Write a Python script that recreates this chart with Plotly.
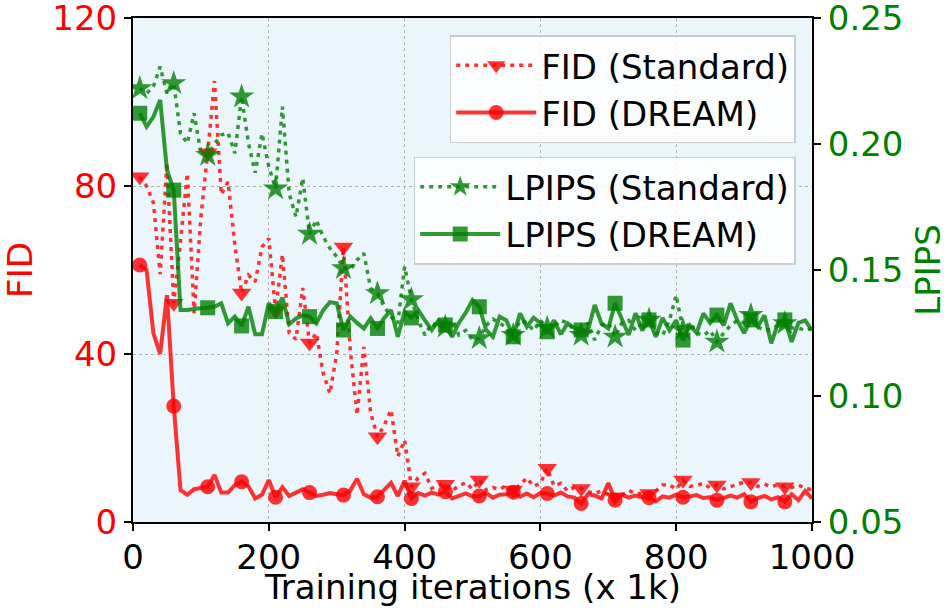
import plotly.graph_objects as go

iters = list(range(10, 1001, 10))

fid_standard = [82.2, 80, 76, 59, 85.5, 52.1, 67, 83, 49.7, 72.7,
                87.9, 105, 78, 81, 66, 54.5, 58.8, 57.2, 65.5, 67.5,
                50.3, 63.7, 45, 43.5, 55.7, 42.6, 45, 35.5, 30.6, 40,
                65.5, 41, 25.5, 41.7, 26, 20.3, 23, 26.7, 15.6, 19.5,
                8.4, 10.5, 11.6, 8.0, 8.8, 9.0, 7.5, 8.6, 9.4, 7.8,
                10.0, 7.6, 8.2, 7.8, 8.7, 7.6, 8.8, 10.5, 8.5, 9.2,
                12.8, 8.6, 9.2, 7.4, 8.3, 8.0, 7.2, 6.8, 7.4, 6.5,
                6.0, 6.3, 7.5, 6.8, 6.7, 6.8, 7.4, 8.8, 8.9, 7.8,
                10.0, 8.5, 8.7, 9.2, 8.1, 8.8, 7.9, 8.4, 8.8, 9.5,
                9.4, 8.5, 9.0, 8.4, 8.9, 8.4, 8.2, 8.8, 8.0, 7.7]

fid_dream = [61.2, 60, 45, 40, 54, 27.6, 7.6, 6.5, 7.8, 8.0,
             8.4, 11.2, 7.0, 7.0, 8.8, 9.6, 8.5, 5.6, 6.5, 10.0,
             5.9, 8.3, 6.2, 7.0, 7.8, 7.0, 6.2, 6.5, 6.9, 6.6,
             6.4, 7.5, 10.3, 6.6, 5.8, 6.0, 7.6, 9.3, 6.2, 9.8,
             5.6, 6.9, 6.3, 7.0, 6.5, 7.2, 5.6, 6.3, 6.8, 6.1,
             6.2, 6.9, 5.8, 6.5, 6.6, 7.1, 6.0, 6.8, 5.9, 6.9,
             6.8, 6.3, 7.0, 6.1, 5.8, 4.4, 6.6, 6.3, 5.6, 9.3,
             5.2, 6.5, 5.8, 6.3, 5.9, 5.8, 4.9, 6.1, 5.8, 6.5,
             5.9, 6.1, 6.4, 5.7, 5.9, 5.2, 5.7, 6.3, 5.8, 6.6,
             4.8, 5.7, 6.2, 5.4, 5.9, 4.8, 6.6, 5.2, 7.4, 5.6]

lpips_standard = [0.2221, 0.2201, 0.2228, 0.2307, 0.2201, 0.2241, 0.2042, 0.2003, 0.2122, 0.1964,
                  0.1956, 0.2000, 0.2036, 0.2044, 0.1963, 0.2188, 0.2003, 0.1886, 0.2042, 0.1910,
                  0.1823, 0.2148, 0.1804, 0.1711, 0.1864, 0.1643, 0.1698, 0.1632, 0.1586, 0.1553,
                  0.1507, 0.1500, 0.1540, 0.1566, 0.1427, 0.1407, 0.1354, 0.1315, 0.1288, 0.1513,
                  0.1383, 0.1300, 0.1242, 0.1288, 0.1270, 0.1275, 0.1300, 0.1242, 0.1260, 0.1222,
                  0.1229, 0.1280, 0.1305, 0.1290, 0.1270, 0.1242, 0.1300, 0.1290, 0.1260, 0.1300,
                  0.1270, 0.1280, 0.1300, 0.1290, 0.1260, 0.1242, 0.1290, 0.1222, 0.1280, 0.1290,
                  0.1235, 0.1290, 0.1300, 0.1260, 0.1290, 0.1302, 0.1250, 0.1240, 0.1300, 0.1400,
                  0.1262, 0.1290, 0.1250, 0.1240, 0.1260, 0.1215, 0.1250, 0.1280, 0.1300, 0.1290,
                  0.1321, 0.1275, 0.1260, 0.1265, 0.1280, 0.1288, 0.1270, 0.1270, 0.1260, 0.1270]

lpips_dream = [0.2122, 0.2069, 0.2108, 0.2175, 0.1897, 0.1817, 0.1341, 0.1341, 0.1345, 0.1348,
               0.1350, 0.1354, 0.1368, 0.1288, 0.1315, 0.1278, 0.1354, 0.1245, 0.1245, 0.1368,
               0.1335, 0.1390, 0.1285, 0.1308, 0.1320, 0.1315, 0.1288, 0.1340, 0.1372, 0.1368,
               0.1262, 0.1315, 0.1290, 0.1268, 0.1308, 0.1268, 0.1310, 0.1341, 0.1235, 0.1335,
               0.1310, 0.1341, 0.1300, 0.1262, 0.1300, 0.1282, 0.1235, 0.1290, 0.1330, 0.1381,
               0.1354, 0.1262, 0.1235, 0.1315, 0.1300, 0.1235, 0.1328, 0.1275, 0.1310, 0.1290,
               0.1255, 0.1300, 0.1245, 0.1288, 0.1270, 0.1262, 0.1260, 0.1361, 0.1288, 0.1268,
               0.1368, 0.1300, 0.1242, 0.1328, 0.1260, 0.1302, 0.1235, 0.1310, 0.1260, 0.1300,
               0.1222, 0.1280, 0.1250, 0.1328, 0.1290, 0.1321, 0.1280, 0.1368, 0.1300, 0.1250,
               0.1302, 0.1275, 0.1320, 0.1209, 0.1290, 0.1302, 0.1215, 0.1290, 0.1300, 0.1260]

x_ticks = [0, 200, 400, 600, 800, 1000]
fid_ticks = [0, 40, 80, 120]
lpips_ticks = [0.05, 0.10, 0.15, 0.20, 0.25]

RED = "rgba(255,0,0,0.8)"
GREEN = "rgba(0,128,0,0.8)"
CLEAR = "rgba(0,0,0,0)"
FONT = "DejaVu Sans"
FS_TICK = 34
FS_TITLE = 34
FS_LEG = 34


def mark_colors(color):
    # markers shown on every 5th point (matplotlib markevery=5)
    return [color if i % 5 == 0 else CLEAR for i in range(len(iters))]


dot_dash = "4px,5px"

fig = go.Figure()
fig.add_trace(go.Scatter(x=iters, y=fid_standard, name="FID (Standard)", mode="lines+markers",
                         line=dict(color=RED, width=3.5, dash=dot_dash),
                         marker=dict(symbol="triangle-down", size=17, color=mark_colors(RED)),
                         legend="legend", yaxis="y"))
fig.add_trace(go.Scatter(x=iters, y=fid_dream, name="FID (DREAM)", mode="lines+markers",
                         line=dict(color=RED, width=4),
                         marker=dict(symbol="circle", size=15, color=mark_colors(RED)),
                         legend="legend", yaxis="y"))
fig.add_trace(go.Scatter(x=iters, y=lpips_standard, name="LPIPS (Standard)", mode="lines+markers",
                         line=dict(color=GREEN, width=3.5, dash=dot_dash),
                         marker=dict(symbol="star", size=19, color=mark_colors(GREEN)),
                         legend="legend2", yaxis="y2"))
fig.add_trace(go.Scatter(x=iters, y=lpips_dream, name="LPIPS (DREAM)", mode="lines+markers",
                         line=dict(color=GREEN, width=4),
                         marker=dict(symbol="square", size=15, color=mark_colors(GREEN)),
                         legend="legend2", yaxis="y2"))

legend_common = dict(
    bgcolor="rgba(255,255,255,0.8)", bordercolor="#cccccc", borderwidth=1.5,
    font=dict(family=FONT, size=FS_LEG, color="black"), itemsizing="trace",
    itemwidth=80, xanchor="right", yanchor="top", traceorder="normal",
)

fig.update_layout(
    width=951, height=611,
    margin=dict(l=133, r=139, t=18, b=89, autoexpand=False),
    paper_bgcolor="white",
    plot_bgcolor="#ebf5fc",
    font=dict(family=FONT, size=FS_TICK, color="black"),
    xaxis=dict(range=[0, 1000], tickvals=x_ticks, showline=True, mirror=True,
               linecolor="black", linewidth=2, ticks="outside", ticklen=7, tickwidth=1.5,
               tickcolor="black", showgrid=True, gridcolor="#b0b0b0", griddash="dot",
               gridwidth=1, zeroline=False, ticklabeloverflow="allow", automargin=False,
               ticklabelstandoff=-3,
               tickfont=dict(size=FS_TICK, color="black")),
    yaxis=dict(range=[0, 120], tickvals=fid_ticks, showline=True, mirror=True,
               linecolor="black", linewidth=2, ticks="outside", ticklen=7, tickwidth=1.5,
               tickcolor="black", showgrid=True, gridcolor="#b0b0b0", griddash="dot",
               gridwidth=1, zeroline=False, ticklabeloverflow="allow", automargin=False,
               title=dict(text="FID", font=dict(size=FS_TITLE, color="red"), standoff=30),
               tickfont=dict(size=FS_TICK, color="red")),
    yaxis2=dict(range=[0.05, 0.25], tickvals=lpips_ticks, tickformat=".2f",
                overlaying="y", side="right", showline=True, linecolor="black", linewidth=2,
                ticks="outside", ticklen=7, tickwidth=1.5, tickcolor="black",
                showgrid=False, zeroline=False, ticklabeloverflow="allow", automargin=False,
                title=dict(text="LPIPS", font=dict(size=FS_TITLE, color="green"), standoff=14),
                tickfont=dict(size=FS_TICK, color="green")),
    legend=dict(x=0.976, y=0.966, **legend_common),
    legend2=dict(x=0.976, y=0.725, **legend_common),
    annotations=[dict(text="Training iterations (x 1k)", xref="paper", yref="paper",
                      x=0.5, y=0, xanchor="center", yanchor="middle", yshift=-65,
                      showarrow=False, font=dict(family=FONT, size=FS_TITLE, color="black"))],
)

fig.write_html("out.html", config={"displayModeBar": False},
               post_script="document.body.style.margin='0px';")
